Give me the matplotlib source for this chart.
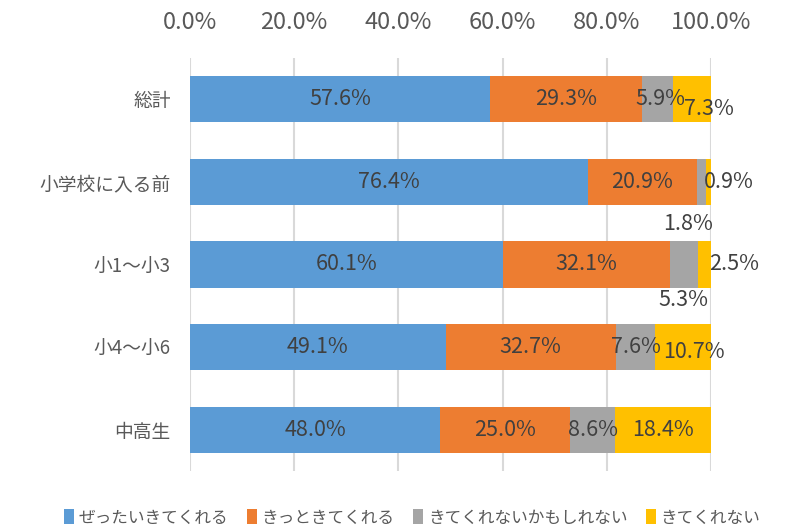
import matplotlib.pyplot as plt
import numpy as np

plt.rcParams['font.family'] = ['Noto Sans CJK JP', 'DejaVu Sans']

# データ
categories = ['総計', '小学校に入る前', '小1～小3', '小4～小6', '中高生']
series_names = ['ぜったいきてくれる', 'きっときてくれる', 'きてくれないかもしれない', 'きてくれない']
zettai = [57.6, 76.4, 60.1, 49.1, 48.0]
kitto = [29.3, 20.9, 32.1, 32.7, 25.0]
kamo = [5.9, 1.8, 5.3, 7.6, 8.6]
konai = [7.3, 0.9, 2.5, 10.7, 18.4]
tick_values = [0, 20, 40, 60, 80, 100]

colors = ['#5B9BD5', '#ED7D31', '#A5A5A5', '#FFC000']

# ラベルのずらし (pixel, 系列index, 行index)
label_offsets = {
    (2, 0): (3, 0), (3, 0): (17, -10),
    (2, 1): (-14, -42), (3, 1): (20, 0),
    (2, 2): (-1, -35), (3, 2): (30, 0),
    (3, 3): (11, -5),
}

fig = plt.figure(figsize=(8, 5.32), dpi=100)
ax = fig.add_axes([190 / 800, 1 - 471 / 532, 521 / 800, 413 / 532])

data = np.array([zettai, kitto, kamo, konai])
norm = data / data.sum(axis=0) * 100  # 100%積み上げ
y = np.arange(len(categories))
left = np.zeros(len(categories))

for i, name in enumerate(series_names):
    bars = ax.barh(y, norm[i], left=left, height=0.56, color=colors[i], label=name, zorder=3)
    for j, bar in enumerate(bars):
        cx = bar.get_x() + bar.get_width() / 2
        dx, dy = label_offsets.get((i, j), (0, 0))
        ax.annotate(f'{data[i][j]:.1f}%', (cx, y[j]), xytext=(dx, dy), textcoords='offset pixels',
                    ha='center', va='center', fontsize=15.5, color='#404040', zorder=4)
    left += norm[i]

ax.set_xlim(0, 100)
ax.set_ylim(4.5, -0.5)
ax.set_yticks(y)
ax.set_yticklabels(categories, fontsize=13.5, color='#595959')
ax.set_xticks(tick_values)
ax.set_xticklabels([f'{v:.1f}%' for v in tick_values], fontsize=17, color='#595959')
ax.xaxis.tick_top()
ax.tick_params(axis='x', length=0, pad=17)
ax.tick_params(axis='y', length=0, pad=14)
ax.grid(axis='x', color='#D9D9D9', linewidth=1.5, zorder=0)
for s in ax.spines.values():
    s.set_visible(False)

fig.legend(loc='center', bbox_to_anchor=(0.515, 1 - 518 / 532), ncol=4, frameon=False,
           fontsize=12, handlelength=0.6, handleheight=1.0, handletextpad=0.3,
           columnspacing=1.1, labelcolor='#595959')

fig.savefig('out.png', dpi=100)
